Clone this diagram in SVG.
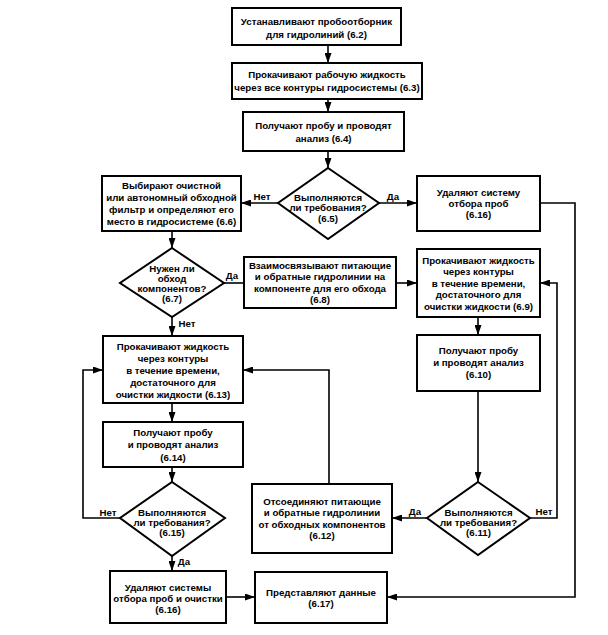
<svg xmlns="http://www.w3.org/2000/svg" width="608" height="635" viewBox="0 0 608 635">
<defs>
<style>
.n{fill:#fff;stroke:#000;stroke-width:2}
.t{font-family:"Liberation Sans",Arial,sans-serif;font-weight:bold;font-size:9.7px;fill:#000;text-anchor:middle}
.c{fill:none;stroke:#000;stroke-width:1.6}
.a{marker-end:url(#ah)}
</style>
<marker id="ah" markerUnits="userSpaceOnUse" markerWidth="10" markerHeight="7" refX="10" refY="3.5" orient="auto">
<path d="M0,0 L10,3.5 L0,7 z" fill="#000"/>
</marker>
</defs>
<rect width="608" height="635" fill="#fff"/>
<g id="connectors">
<path class="c a" d="M328,45 V63"/>
<path class="c a" d="M328,99 V112"/>
<path class="c a" d="M328,151 V168"/>
<path class="c a" d="M278,203 H241"/>
<path class="c a" d="M379,203 H417"/>
<path class="c a" d="M172,231 V248"/>
<path class="c" d="M224,283 H244"/>
<path class="c a" d="M396,283 H417"/>
<path class="c a" d="M172,317 V336"/>
<path class="c a" d="M172,403 V422"/>
<path class="c a" d="M172,467 V482"/>
<path class="c a" d="M120,518 H83 V370 H103"/>
<path class="c a" d="M172,556 V571"/>
<path class="c a" d="M226,597 H255"/>
<path class="c a" d="M478,317 V335"/>
<path class="c a" d="M478,391 V482"/>
<path class="c a" d="M427,518 H392"/>
<path class="c a" d="M530,518 H557 V283 H540"/>
<path class="c a" d="M329,484 V370 H243"/>
<path class="c a" d="M540,203 H575 V597 H387"/>
<text class="t" x="262" y="199.5">Нет</text>
<text class="t" x="393" y="199.5">Да</text>
<text class="t" x="232" y="278.5">Да</text>
<text class="t" x="187" y="327">Нет</text>
<text class="t" x="108" y="515.5">Нет</text>
<text class="t" x="184" y="565">Да</text>
<text class="t" x="415" y="515">Да</text>
<text class="t" x="544" y="515">Нет</text>
</g>
<g id="n62">
<rect class="n" x="232" y="8" width="169" height="37"/>
<text class="t"><tspan x="316.5" y="24.5">Устанавливают пробоотборник</tspan><tspan x="316.5" y="37.5">для гидролиний (6.2)</tspan></text>
</g>
<g id="n63">
<rect class="n" x="232" y="63" width="190" height="36"/>
<text class="t"><tspan x="327" y="78">Прокачивают рабочую жидкость</tspan><tspan x="327" y="91">через все контуры гидросистемы (6.3)</tspan></text>
</g>
<g id="n64">
<rect class="n" x="243" y="112" width="161" height="39"/>
<text class="t"><tspan x="323.5" y="128.5">Получают пробу и проводят</tspan><tspan x="323.5" y="141.5">анализ (6.4)</tspan></text>
</g>
<g id="n65">
<polygon class="n" points="328,168 379,203 328,239 278,203"/>
<text class="t"><tspan x="328" y="201">Выполняются</tspan><tspan x="328" y="211">ли требования?</tspan><tspan x="328" y="221.5">(6.5)</tspan></text>
</g>
<g id="n66">
<rect class="n" x="102" y="176" width="139" height="55"/>
<text class="t"><tspan x="171.5" y="188.5">Выбирают очистной</tspan><tspan x="171.5" y="200.5">или автономный обходной</tspan><tspan x="171.5" y="212.5">фильтр и определяют его</tspan><tspan x="171.5" y="224.5">место в гидросистеме (6.6)</tspan></text>
</g>
<g id="n616a">
<rect class="n" x="417" y="176" width="123" height="55"/>
<text class="t"><tspan x="478.5" y="195.5">Удаляют систему</tspan><tspan x="478.5" y="206.5">отбора проб</tspan><tspan x="478.5" y="217.5">(6.16)</tspan></text>
</g>
<g id="n67">
<polygon class="n" points="172,248 224,283 172,317 120,283"/>
<text class="t"><tspan x="172" y="271.5">Нужен ли</tspan><tspan x="172" y="281.5">обход</tspan><tspan x="172" y="291.5">компонентов?</tspan><tspan x="172" y="301.5">(6.7)</tspan></text>
</g>
<g id="n68">
<rect class="n" x="244" y="257" width="152" height="51"/>
<text class="t"><tspan x="320" y="268.5">Взаимосвязывают питающие</tspan><tspan x="320" y="280">и обратные гидролинии на</tspan><tspan x="320" y="291.5">компоненте для его обхода</tspan><tspan x="320" y="303">(6.8)</tspan></text>
</g>
<g id="n69">
<rect class="n" x="417" y="249" width="123" height="68"/>
<text class="t"><tspan x="478.5" y="263.5">Прокачивают жидкость</tspan><tspan x="478.5" y="275">через контуры</tspan><tspan x="478.5" y="286.5">в течение времени,</tspan><tspan x="478.5" y="298">достаточного для</tspan><tspan x="478.5" y="309.5">очистки жидкости (6.9)</tspan></text>
</g>
<g id="n613">
<rect class="n" x="103" y="336" width="140" height="67"/>
<text class="t"><tspan x="173" y="349.5">Прокачивают жидкость</tspan><tspan x="173" y="361.5">через контуры</tspan><tspan x="173" y="373.5">в течение времени,</tspan><tspan x="173" y="385.5">достаточного для</tspan><tspan x="173" y="397.5">очистки жидкости (6.13)</tspan></text>
</g>
<g id="n610">
<rect class="n" x="417" y="335" width="123" height="56"/>
<text class="t"><tspan x="478.5" y="353.5">Получают пробу</tspan><tspan x="478.5" y="365.5">и проводят анализ</tspan><tspan x="478.5" y="377.5">(6.10)</tspan></text>
</g>
<g id="n614">
<rect class="n" x="103" y="422" width="140" height="45"/>
<text class="t"><tspan x="173" y="435.5">Получают пробу</tspan><tspan x="173" y="448">и проводят анализ</tspan><tspan x="173" y="460.5">(6.14)</tspan></text>
</g>
<g id="n615">
<polygon class="n" points="172,482 225,518 172,556 120,518"/>
<text class="t"><tspan x="172" y="515.5">Выполняются</tspan><tspan x="172" y="525.5">ли требования?</tspan><tspan x="172" y="536">(6.15)</tspan></text>
</g>
<g id="n611">
<polygon class="n" points="478,482 530,518 478,555 427,518"/>
<text class="t"><tspan x="478.5" y="515.5">Выполняются</tspan><tspan x="478.5" y="525.5">ли требования?</tspan><tspan x="478.5" y="535.5">(6.11)</tspan></text>
</g>
<g id="n612">
<rect class="n" x="252" y="484" width="140" height="69"/>
<text class="t"><tspan x="322" y="504.5">Отсоединяют питающие</tspan><tspan x="322" y="516">и обратные гидролинии</tspan><tspan x="322" y="527.5">от обходных компонентов</tspan><tspan x="322" y="539">(6.12)</tspan></text>
</g>
<g id="n616b">
<rect class="n" x="110" y="571" width="116" height="52"/>
<text class="t"><tspan x="168" y="590.5">Удаляют системы</tspan><tspan x="168" y="601.5">отбора проб и очистки</tspan><tspan x="168" y="612.5">(6.16)</tspan></text>
</g>
<g id="n617">
<rect class="n" x="255" y="572" width="132" height="51"/>
<text class="t"><tspan x="321" y="595.5">Представляют данные</tspan><tspan x="321" y="606.5">(6.17)</tspan></text>
</g>
</svg>
